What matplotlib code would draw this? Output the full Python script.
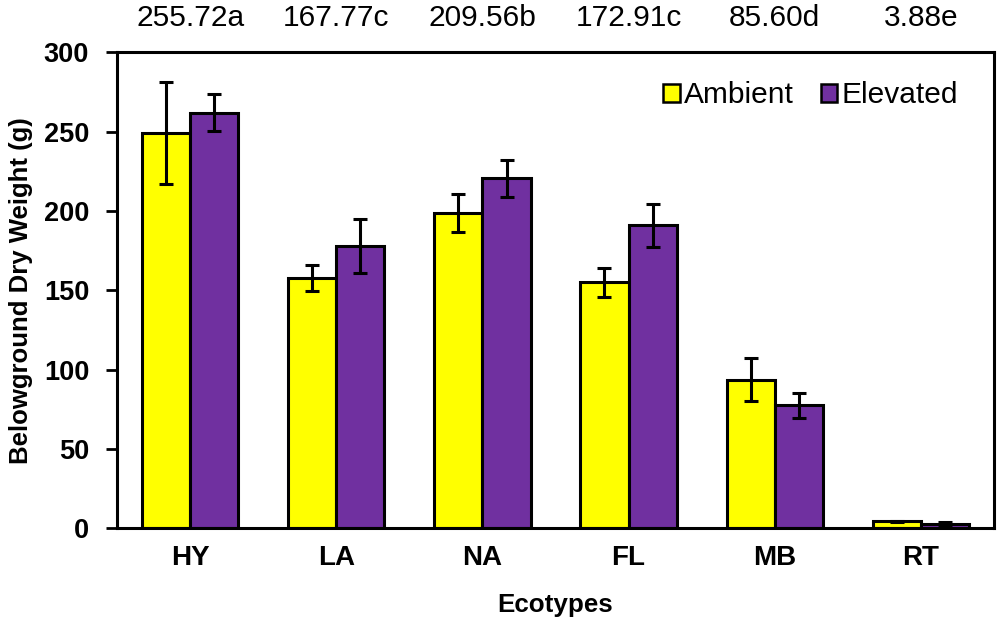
import numpy as np
import matplotlib.pyplot as plt
from matplotlib.patches import Patch

plt.rcParams['font.family'] = ['Liberation Sans', 'DejaVu Sans']

ecotypes = ['HY', 'LA', 'NA', 'FL', 'MB', 'RT']
ambient = [249, 157.7, 198.7, 155, 93.7, 4.4]
ambient_err = [32, 8, 12, 9, 13.5, 0.5]
elevated = [262, 178, 220.5, 191, 77.5, 2.7]
elevated_err = [11.5, 17, 11.5, 13.5, 8, 1]
means = ['255.72a', '167.77c', '209.56b', '172.91c', '85.60d', '3.88e']

yellow = '#ffff00'
purple = '#7030a0'

fig = plt.figure(figsize=(10, 6.29), dpi=100)
ax = fig.add_axes([0.117, 0.16, 0.877, 0.757])

x = np.arange(len(ecotypes))
w = 0.33
ekw = dict(ecolor='black', elinewidth=2.2, capsize=5, capthick=2.2)
ax.bar(x - w / 2, ambient, w, color=yellow, edgecolor='black', linewidth=2.2,
       yerr=ambient_err, error_kw=ekw)
ax.bar(x + w / 2, elevated, w, color=purple, edgecolor='black', linewidth=2.2,
       yerr=elevated_err, error_kw=ekw)

ax.set_xlim(-0.5, 5.5)
ax.set_ylim(0, 300)
ax.set_yticks([0, 50, 100, 150, 200, 250, 300])
ax.set_xticks(x)
ax.set_xticklabels(ecotypes, fontsize=20, fontweight='bold')
for lbl in ax.get_yticklabels():
    lbl.set_fontsize(19.5)
    lbl.set_fontweight('bold')
ax.tick_params(axis='x', length=0, pad=12)
ax.tick_params(axis='y', length=8, width=2, direction='out', pad=12)
for s in ax.spines.values():
    s.set_linewidth(2.2)

ax.set_ylabel('Belowground Dry Weight (g)', fontsize=18.5, fontweight='bold', labelpad=8)
ax.set_xlabel('Ecotypes', fontsize=18.7, fontweight='bold', labelpad=16)

for xi, m in zip(x, means):
    ax.text(xi, 1.072, m, transform=ax.get_xaxis_transform(), ha='center', va='center', fontsize=21.5)

handles = [Patch(facecolor=yellow, edgecolor='black', linewidth=1.8, label='Ambient'),
           Patch(facecolor=purple, edgecolor='black', linewidth=1.8, label='Elevated')]
ax.legend(handles=handles, loc='upper right', ncol=2, frameon=False, fontsize=21.5,
          handlelength=0.55, handleheight=0.55, handletextpad=0.15, columnspacing=0.9,
          bbox_to_anchor=(0.99, 0.995))

fig.savefig('out.png', dpi=100)
